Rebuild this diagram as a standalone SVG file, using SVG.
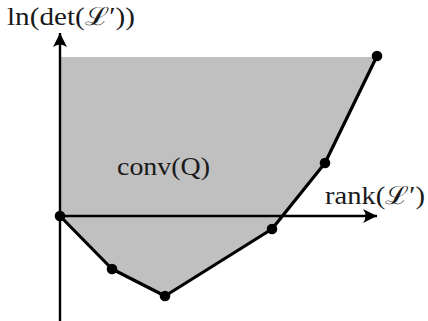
<svg xmlns="http://www.w3.org/2000/svg" width="428" height="321" viewBox="0 0 428 321">
<style>
.axis{stroke:#000;stroke-width:2.4;fill:none}
.hull{stroke:#000;stroke-width:3.2;fill:none;stroke-linejoin:round}
.pt{fill:#000}
.lbl{font-family:"Liberation Serif","DejaVu Serif",serif;font-size:25px;fill:#1a1a1a}
</style>
<defs>
<marker id="arr" viewBox="-14 -8 16 16" markerWidth="16" markerHeight="16" refX="0" refY="0" orient="auto" markerUnits="userSpaceOnUse">
<path d="M0,0 L-14,-7 Q-9,0 -14,7 Z" fill="#000"/>
</marker>
</defs>
<g id="region">
<polygon points="60,57 377,57 325,163 272,229 165,296 112,269 60,216" fill="#c0c0c0"/>
</g>
<g id="axes">
<line class="axis" x1="60" y1="321" x2="60" y2="33" marker-end="url(#arr)"/>
<line class="axis" x1="60" y1="216" x2="377" y2="216" marker-end="url(#arr)"/>
</g>
<g id="connectors">
<polyline class="hull" points="60,216 112,269 165,296 272,229 325,163 377,56"/>
</g>
<g id="points">
<circle class="pt" cx="60" cy="216" r="5.3"/>
<circle class="pt" cx="112" cy="269" r="5.3"/>
<circle class="pt" cx="165" cy="296" r="5.3"/>
<circle class="pt" cx="272" cy="229" r="5.3"/>
<circle class="pt" cx="325" cy="163" r="5.3"/>
<circle class="pt" cx="377" cy="56" r="5.3"/>
</g>
<g id="labels">
<text class="lbl" x="7" y="25" textLength="128" lengthAdjust="spacingAndGlyphs">ln(det(ℒ′))</text>
<text class="lbl" x="117" y="175" textLength="93" lengthAdjust="spacingAndGlyphs">conv(Q)</text>
<text class="lbl" x="325" y="204" textLength="100" lengthAdjust="spacingAndGlyphs">rank(ℒ′)</text>
</g>
</svg>
